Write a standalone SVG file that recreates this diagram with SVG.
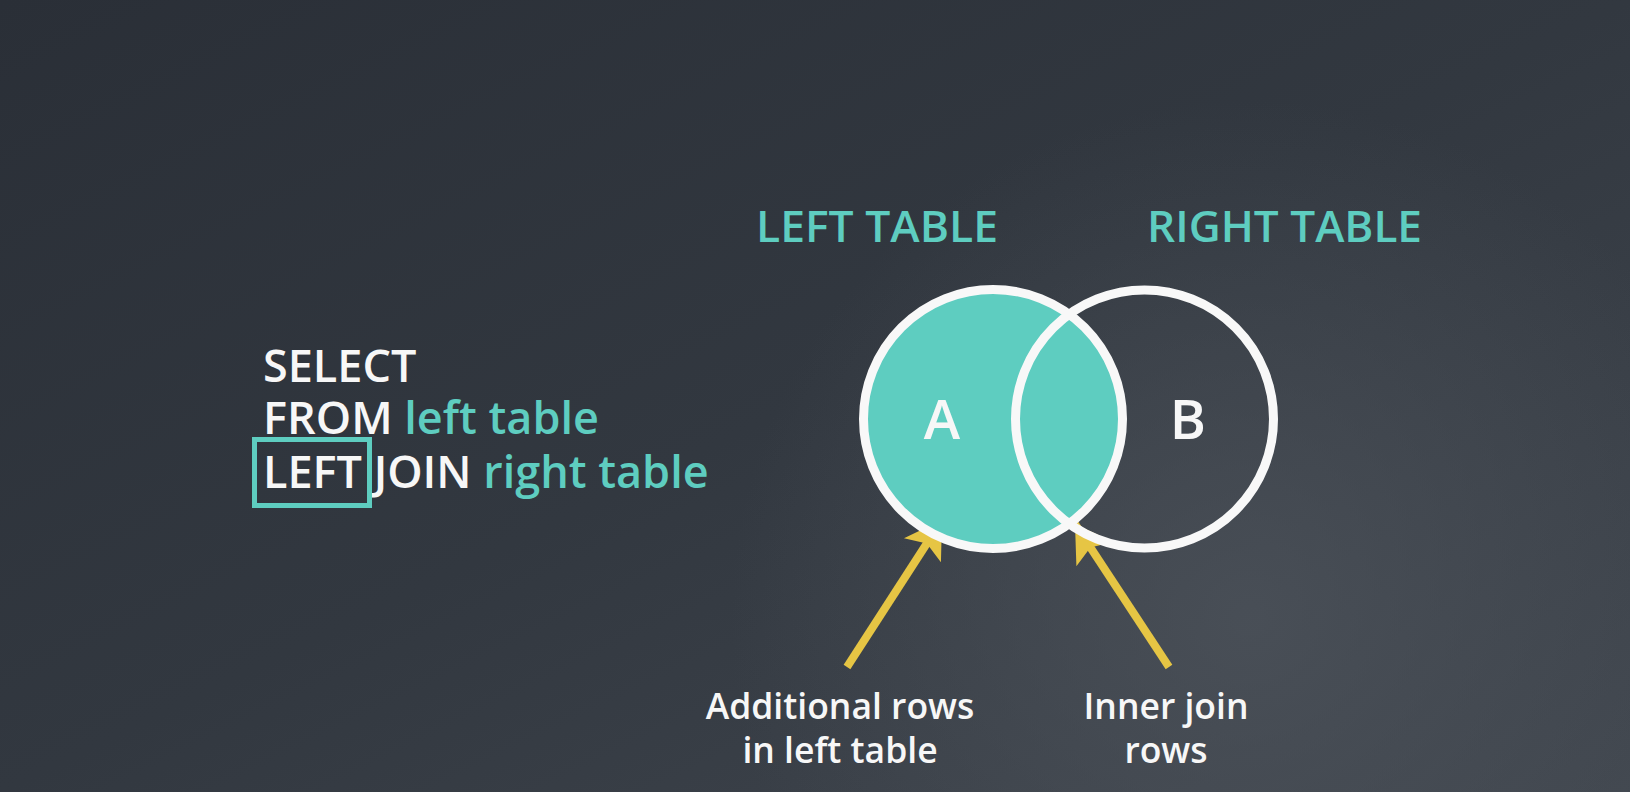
<svg xmlns="http://www.w3.org/2000/svg" width="1630" height="792" viewBox="0 0 1630 792">
  <defs>
    <linearGradient id="bg" x1="0" y1="0" x2="1" y2="1">
      <stop offset="0" stop-color="#2a2f37"/>
      <stop offset="0.5" stop-color="#323840"/>
      <stop offset="1" stop-color="#41474f"/>
    </linearGradient>
    <radialGradient id="glow" cx="1250" cy="620" r="520" gradientUnits="userSpaceOnUse">
      <stop offset="0" stop-color="#4c525a" stop-opacity="0.8"/>
      <stop offset="1" stop-color="#4c525a" stop-opacity="0"/>
    </radialGradient>
    <marker id="head" viewBox="-40 -25 42 50" refX="0" refY="0" markerWidth="42" markerHeight="50" markerUnits="userSpaceOnUse" orient="auto">
      <path d="M0,0 L-36,-22 L-28,0 L-36,22 Z" fill="#e6c544"/>
    </marker>
    <style>
      text { font-family: "Open Sans", "Noto Sans", "Liberation Sans", sans-serif; font-weight: 600; }
      .w { fill: #f7f7f7; }
      .t { fill: #5ecdc0; }
      .sql { font-size: 45px; }
      .head { font-size: 44px; fill: #5ecdc0; }
      .lbl { font-size: 35.5px; fill: #f7f7f7; text-anchor: middle; }
      .letter { font-size: 55px; fill: #f7f7f7; text-anchor: middle; }
      .arrow { stroke: #e6c544; stroke-width: 8; fill: none; marker-end: url(#head); }
      .ring { stroke: #f8f8f8; stroke-width: 9; }
    </style>
  </defs>
  <rect width="1630" height="792" fill="url(#bg)"/>
  <rect width="1630" height="792" fill="url(#glow)"/>

  <g id="sql">
    <text class="sql w" x="263" y="382">SELECT</text>
    <text class="sql w" x="263" y="434">FROM <tspan class="t">left table</tspan></text>
    <text class="sql w" x="263" y="488">LEFT JOIN <tspan class="t">right table</tspan></text>
    <rect x="254.5" y="439.5" width="115" height="66" fill="none" stroke="#5ecdc0" stroke-width="5"/>
  </g>

  <g id="left-title">
    <text class="head" x="756" y="242" textLength="242" lengthAdjust="spacingAndGlyphs">LEFT TABLE</text>
  </g>
  <g id="right-title">
    <text class="head" x="1147" y="242" textLength="275" lengthAdjust="spacingAndGlyphs">RIGHT TABLE</text>
  </g>

  <g id="connectors">
    <line class="arrow" x1="847" y1="667" x2="942" y2="520"/>
    <line class="arrow" x1="1169" y1="667" x2="1075" y2="524"/>
  </g>

  <g id="circle-a">
    <circle class="ring" cx="993" cy="419" r="129.5" fill="#5ecdc0"/>
    <text class="letter" x="942" y="439">A</text>
  </g>
  <g id="circle-b">
    <circle class="ring" cx="1144.5" cy="419" r="129" fill="none"/>
    <text class="letter" x="1188" y="439">B</text>
  </g>

  <g id="label-additional">
    <text class="lbl" x="840" y="719">Additional rows</text>
    <text class="lbl" x="840" y="763">in left table</text>
  </g>
  <g id="label-inner">
    <text class="lbl" x="1166" y="719">Inner join</text>
    <text class="lbl" x="1166" y="763">rows</text>
  </g>
</svg>
